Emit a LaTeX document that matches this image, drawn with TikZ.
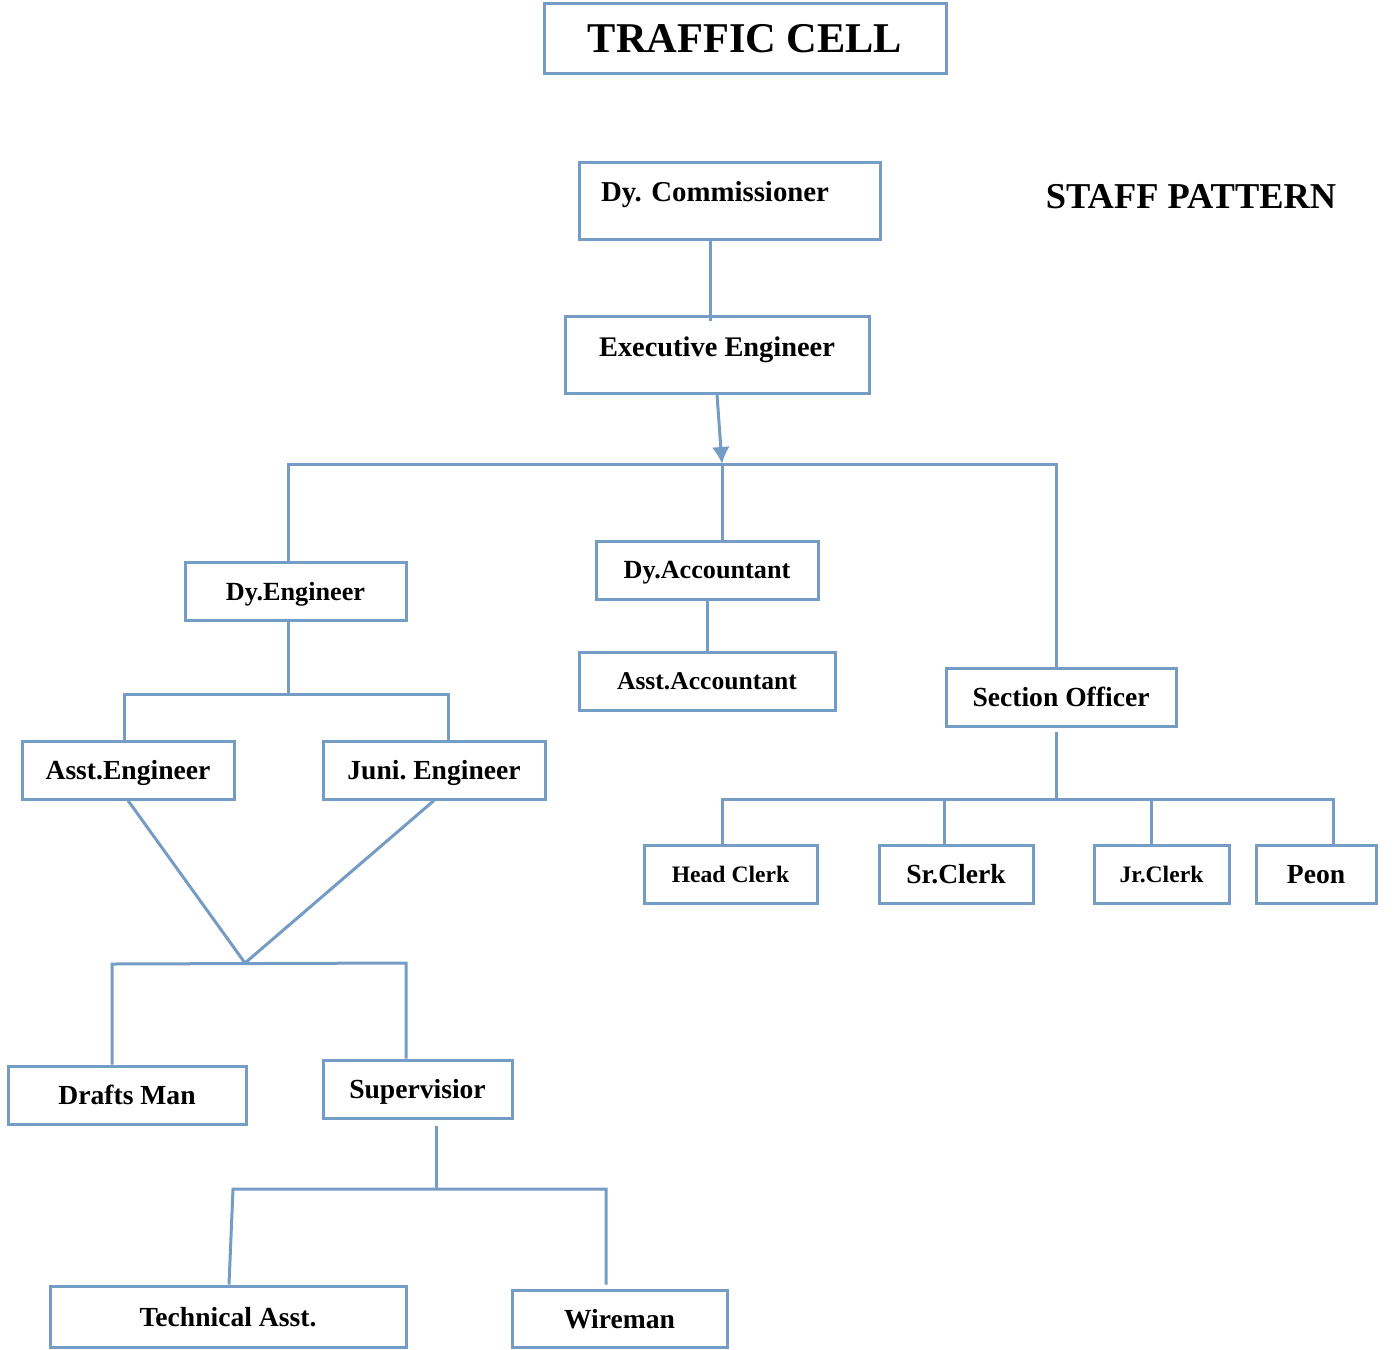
\documentclass[tikz,border=0pt]{standalone}
\usepackage{fontspec}
\setmainfont{Liberation Serif}
\usetikzlibrary{arrows.meta, positioning}
\definecolor{cellblue}{RGB}{116,156,197}
\tikzset{
  post/.style={draw=cellblue, line width=1.5pt, fill=white, inner sep=0pt, minimum height=29pt, text depth=0pt, font=\fontsize{13.8pt}{16pt}\selectfont\bfseries},
  link/.style={draw=cellblue, line width=1.5pt},
}
\begin{document}
\begin{tikzpicture}[x=0.5pt, y=-0.5pt]
	\useasboundingbox (0,0) rectangle (1396,1349);
	%heading:
	\node[post, minimum width=201pt, minimum height=35pt, font=\fontsize{21.2pt}{24pt}\selectfont\bfseries] (cell) at (745,38) {TRAFFIC CELL};
	\node[font=\fontsize{18.2pt}{20pt}\selectfont\bfseries] (pattern) at (1191,197) {STAFF PATTERN};

	%top posts
	\node[post, text width=128.5pt, align=left, inner xsep=11pt, minimum height=38.5pt, text depth=8.5pt, font=\fontsize{14.4pt}{16pt}\selectfont\bfseries] (comm) at (729.5,200.5) {Dy.\ Commissioner};
	\node[post, minimum width=152pt, minimum height=38.5pt, text depth=7.5pt, font=\fontsize{14.2pt}{16pt}\selectfont\bfseries] (exec) at (717,354.5) {Executive Engineer};

	\node[post, minimum width=110.5pt, font=\fontsize{13.1pt}{15pt}\selectfont\bfseries] (dyeng) at (295.5,591) {Dy.Engineer};
	\node[post, minimum width=111pt, font=\fontsize{13.1pt}{15pt}\selectfont\bfseries] (dyacc) at (707,570) {Dy.Accountant};
	\node[post, minimum width=128pt, font=\fontsize{12.8pt}{15pt}\selectfont\bfseries] (asstacc) at (707,681) {Asst.Accountant};
	\node[post, minimum width=115pt] (secoff) at (1061,697) {Section Officer};

	%clerks
	\node[post, minimum width=86.5pt, font=\fontsize{11.8pt}{14pt}\selectfont\bfseries] (headclerk) at (730.5,874) {Head Clerk};
	\node[post, minimum width=77pt] (srclerk) at (956,874) {Sr.Clerk};
	\node[post, minimum width=67.5pt, font=\fontsize{11.8pt}{14pt}\selectfont\bfseries] (jrclerk) at (1161.5,874) {Jr.Clerk};
	\node[post, minimum width=60pt] (peon) at (1316,874) {Peon};

	%engineering side
	\node[post, minimum width=106pt] (assteng) at (128,770) {Asst.Engineer};
	\node[post, minimum width=111pt] (junieng) at (434,770) {Juni.\ Engineer};
	\node[post, minimum width=119pt] (drafts) at (127,1095) {Drafts Man};
	\node[post, minimum width=94.5pt] (superv) at (417.5,1089) {Supervisior};
	\node[post, minimum width=178pt, minimum height=30.5pt] (techasst) at (228,1316.5) {Technical Asst.};
	\node[post, minimum width=107.5pt, minimum height=28.5pt] (wireman) at (619.5,1318.5) {Wireman};

	%junctions
	\coordinate (hub) at (722,464);
	\coordinate (hubL) at (288,464);
	\coordinate (hubR) at (1056,464);
	\coordinate (engbus) at (288,694);
	\coordinate (engL) at (124,694);
	\coordinate (engR) at (448,694);
	\coordinate (vjoin) at (245,963);
	\coordinate (drL) at (112,964);
	\coordinate (drR) at (406,963);
	\coordinate (supbus) at (436,1189);
	\coordinate (tL) at (233,1189);
	\coordinate (tR) at (606,1189);
	\coordinate (secbus) at (1056,799);
	\coordinate (clL) at (722,799);
	\coordinate (clS) at (944,799);
	\coordinate (clJ) at (1151,799);
	\coordinate (clR) at (1333,799);

	%connectors
	\draw[link] ([xshift=-9.75pt]comm.south) -- ([xshift=-3.5pt, yshift=-3pt]exec.north);
	\draw[link, -{Latex[length=8.5pt, width=9pt]}] (exec.south) -- (hub);
	\draw[link] (hubL |- dyeng.north) -- (hubL) -- (hubR) -- (hubR |- secoff.north);
	\draw[link] (hub) -- (hub |- dyacc.north);
	\draw[link] (dyacc.south) -- (asstacc.north);

	\draw[link] (dyeng.south -| engbus) -- (engbus);
	\draw[link] (engL |- assteng.north) -- (engL) -- (engR) -- (engR |- junieng.north);
	\draw[link] (assteng.south) -- (vjoin) -- (junieng.south);
	\draw[link] (drL |- drafts.north) -- (drL) -- (drR) -- (drR |- superv.north);
	\draw[link] ([yshift=-3pt]superv.south -| supbus) -- (supbus);
	\draw[link] ([xshift=0.5pt]techasst.north) -- (tL) -- (tR) -- (tR |- techasst.north);

	\draw[link] ([yshift=-2pt]secoff.south -| secbus) -- (secbus);
	\draw[link] (clL |- headclerk.north) -- (clL) -- (clR) -- (clR |- peon.north);
	\draw[link] (clS) -- (clS |- srclerk.north);
	\draw[link] (clJ) -- (clJ |- jrclerk.north);
\end{tikzpicture}
\end{document}
